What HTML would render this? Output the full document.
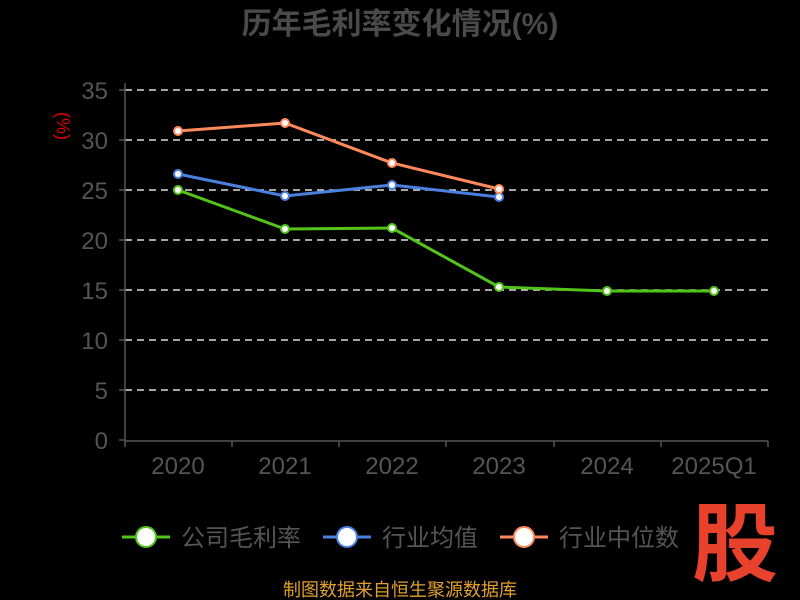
<!DOCTYPE html>
<html><head><meta charset="utf-8"><style>
html,body{margin:0;padding:0;background:#000;width:800px;height:600px;overflow:hidden}
</style></head><body>
<svg width="800" height="600" xmlns="http://www.w3.org/2000/svg" style="font-family:'Liberation Sans','Noto Sans CJK SC',sans-serif">
<rect width="800" height="600" fill="#000"/>
<text x="400" y="34" text-anchor="middle" font-size="30" font-weight="bold" fill="#4a4a4a">历年毛利率变化情况(%)</text>
<text x="57" y="126" text-anchor="middle" font-size="18" fill="#d00" transform="rotate(90 57 126)">(%)</text>
<g stroke="#ddd" stroke-width="1.5" stroke-dasharray="7,5">
<line x1="125" x2="768" y1="90" y2="90"/><line x1="125" x2="768" y1="140" y2="140"/>
<line x1="125" x2="768" y1="190" y2="190"/><line x1="125" x2="768" y1="240" y2="240"/>
<line x1="125" x2="768" y1="290" y2="290"/><line x1="125" x2="768" y1="340" y2="340"/>
<line x1="125" x2="768" y1="390" y2="390"/>
</g>
<g stroke="#555" stroke-width="1.5">
<line x1="125" x2="125" y1="83" y2="441"/><line x1="125" x2="768" y1="441" y2="441"/>
<line x1="119" x2="125" y1="90" y2="90"/><line x1="119" x2="125" y1="140" y2="140"/><line x1="119" x2="125" y1="190" y2="190"/><line x1="119" x2="125" y1="240" y2="240"/><line x1="119" x2="125" y1="290" y2="290"/><line x1="119" x2="125" y1="340" y2="340"/><line x1="119" x2="125" y1="390" y2="390"/><line x1="119" x2="125" y1="440" y2="440"/>
<line x1="125" x2="125" y1="441" y2="447"/><line x1="232" x2="232" y1="441" y2="447"/><line x1="339" x2="339" y1="441" y2="447"/><line x1="446" x2="446" y1="441" y2="447"/><line x1="554" x2="554" y1="441" y2="447"/><line x1="661" x2="661" y1="441" y2="447"/><line x1="768" x2="768" y1="441" y2="447"/>
</g>
<g font-size="24" fill="#555" text-anchor="end">
<text x="108" y="99">35</text><text x="108" y="149">30</text><text x="108" y="199">25</text><text x="108" y="249">20</text><text x="108" y="299">15</text><text x="108" y="349">10</text><text x="108" y="399">5</text><text x="108" y="449">0</text>
</g>
<g font-size="24" fill="#555" text-anchor="middle">
<text x="178" y="474">2020</text><text x="285" y="474">2021</text><text x="392" y="474">2022</text><text x="499" y="474">2023</text><text x="607" y="474">2024</text><text x="714" y="474">2025Q1</text>
</g>
<polyline fill="none" stroke="#52c41a" stroke-width="3" points="178,190 285,229 392,228 499,287 607,291 714,291"/>
<polyline fill="none" stroke="#4a80e0" stroke-width="3" points="178,174 285,196 392,185 499,197"/>
<polyline fill="none" stroke="#ff8a5c" stroke-width="3" points="178,131 285,123 392,163 499,189"/>
<g fill="#fff" stroke-width="2">
<g stroke="#52c41a"><circle cx="178" cy="190" r="4"/><circle cx="285" cy="229" r="4"/><circle cx="392" cy="228" r="4"/><circle cx="499" cy="287" r="4"/><circle cx="607" cy="291" r="4"/><circle cx="714" cy="291" r="4"/></g>
<g stroke="#4a80e0"><circle cx="178" cy="174" r="4"/><circle cx="285" cy="196" r="4"/><circle cx="392" cy="185" r="4"/><circle cx="499" cy="197" r="4"/></g>
<g stroke="#ff8a5c"><circle cx="178" cy="131" r="4"/><circle cx="285" cy="123" r="4"/><circle cx="392" cy="163" r="4"/><circle cx="499" cy="189" r="4"/></g>
</g>
<g font-size="24" fill="#555">
<line x1="122" x2="170" y1="537" y2="537" stroke="#52c41a" stroke-width="3"/><circle cx="146" cy="537" r="10" fill="#fff" stroke="#52c41a" stroke-width="2"/>
<text x="181" y="546">公司毛利率</text>
<line x1="323" x2="371" y1="537" y2="537" stroke="#4a80e0" stroke-width="3"/><circle cx="347" cy="537" r="10" fill="#fff" stroke="#4a80e0" stroke-width="2"/>
<text x="382" y="546">行业均值</text>
<line x1="500" x2="548" y1="537" y2="537" stroke="#ff8a5c" stroke-width="3"/><circle cx="524" cy="537" r="10" fill="#fff" stroke="#ff8a5c" stroke-width="2"/>
<text x="559" y="546">行业中位数</text>
</g>
<text x="735" y="574" text-anchor="middle" font-size="86" font-weight="bold" fill="#e8412c">股</text>
<text x="400" y="596" text-anchor="middle" font-size="18" fill="#e0a030">制图数据来自恒生聚源数据库</text>
</svg>
</body></html>
